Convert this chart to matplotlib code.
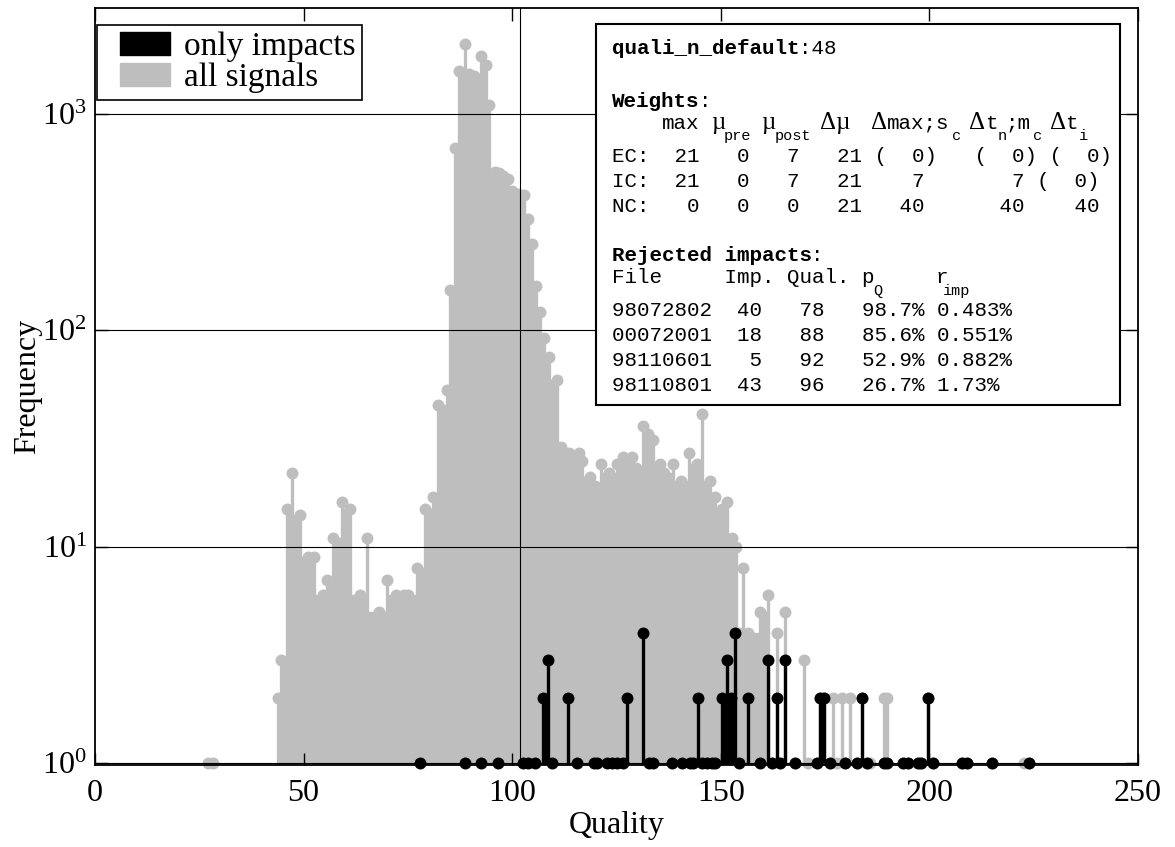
import matplotlib
matplotlib.use('Agg')
import matplotlib.pyplot as plt
from matplotlib.patches import Patch, Rectangle
from matplotlib.legend_handler import HandlerPatch
from matplotlib.ticker import NullLocator

plt.rcParams['font.family'] = 'Liberation Serif'
plt.rcParams['mathtext.fontset'] = 'custom'
plt.rcParams['mathtext.rm'] = 'Liberation Serif'

# histogram of all signals (quality value, count)
all_q = [27.2, 28.2,
         43.9, 44.7, 46.0, 47.2, 49.1, 51.1, 52.6, 54.7, 55.7, 57.1,
         59.1, 61.1, 63.4, 65.3, 68.1, 70.1, 72.1, 74.1, 75.1, 77.1,
         79.0, 81.0, 82.1, 84.3, 85.1, 86.3, 87.3, 88.7, 89.7, 90.8,
         92.5, 93.7, 94.5, 95.9, 96.9, 97.9, 98.9, 99.9, 101.3, 102.8,
         103.9, 104.8, 105.7, 106.7, 107.6, 108.8, 110.7, 111.6, 113.7, 115.9,
         116.7, 118.6, 119.8, 121.4, 123.3, 125.2, 126.5, 128.6, 129.7, 131.4,
         132.6, 133.7, 135.4, 136.4, 138.5, 140.5, 142.4, 144.2, 145.4, 147.4,
         148.6, 150.2, 151.4, 152.6, 153.6, 154.4, 155.4, 156.5, 159.4, 161.4,
         162.2, 163.4, 164.2, 165.4, 167.8, 169.9, 171.0, 173.0, 173.8, 174.7,
         176.2, 177.0, 177.8, 179.0, 179.8, 181.0, 182.6, 183.9, 185.0, 185.8,
         189.0, 189.8, 193.7, 194.9, 197.3, 198.1, 199.7, 200.9, 207.7, 208.9,
         214.9, 222.6, 223.8]
all_n = [1, 1,
         2, 3, 15, 22, 14, 9, 9, 6, 7, 11,
         16, 15, 6, 11, 5, 7, 6, 6, 6, 8,
         15, 17, 45, 53, 154, 695, 1570, 2095, 1520, 1500,
         1840, 1680, 1100, 540, 530, 515, 500, 440, 425, 420,
         325, 250, 160, 121, 92, 75, 59, 29, 27, 27,
         25, 21, 19, 24, 22, 24, 26, 26, 23, 36,
         33, 31, 24, 22, 24, 20, 27, 24, 41, 20,
         17, 15, 16, 11, 10, 4, 8, 4, 5, 6,
         1, 4, 1, 5, 1, 3, 1, 1, 2, 2,
         1, 2, 1, 2, 1, 2, 1, 2, 1, 1,
         2, 2, 1, 1, 1, 1, 2, 1, 1, 1,
         1, 1, 1]

# histogram of impacts only
imp_q = [77.9, 88.7, 92.5, 96.5, 102.7, 103.9, 105.5, 107.5, 108.5, 109.6,
         113.4, 115.6, 119.5, 120.3, 122.7, 123.9, 125.1, 126.5, 127.4, 131.4,
         132.8, 133.7, 138.4, 140.6, 142.6, 143.4, 144.5, 145.5, 146.6, 147.8,
         148.6, 150.2, 151.4, 152.4, 153.4, 154.4, 156.5, 159.4, 161.4, 162.2,
         163.4, 164.2, 165.4, 167.8, 173.0, 173.8, 174.7, 176.2, 179.8, 182.6,
         183.9, 185.0, 189.0, 189.8, 193.7, 194.9, 197.3, 198.1, 199.7, 200.9,
         207.7, 208.9, 214.9, 223.8]
imp_n = [1, 1, 1, 1, 1, 1, 1, 2, 3, 1,
         2, 1, 1, 1, 1, 1, 1, 1, 2, 4,
         1, 1, 1, 1, 1, 1, 2, 1, 1, 1,
         1, 2, 3, 2, 4, 1, 2, 1, 3, 1,
         2, 1, 3, 1, 1, 2, 2, 1, 1, 1,
         2, 1, 1, 1, 1, 1, 1, 1, 2, 1,
         1, 1, 1, 1]

threshold_q = 101.9

# text box contents
quali_n_default = 48
weight_rows = ["EC:  21   0   7   21 (  0)   (  0) (  0)",
               "IC:  21   0   7   21    7       7 (  0)",
               "NC:   0   0   0   21   40      40    40"]
rej_files = ["98072802", "00072001", "98110601", "98110801"]
rej_imp = [40, 18, 5, 43]
rej_qual = [78, 88, 92, 96]
rej_pq = [98.7, 85.6, 52.9, 26.7]
rej_rimp = ["0.483", "0.551", "0.882", "1.73"]

GRAY = '#bebebe'
W, H = 1175, 847


def blocks(q, n, maxgap=3.0):
    # filled steps between neighbouring stems, at the lower of the two counts
    left, width, height = [], [], []
    for i in range(len(q) - 1):
        gap = q[i + 1] - q[i]
        h = min(n[i], n[i + 1])
        if gap <= maxgap and h > 1:
            left.append(q[i])
            width.append(gap)
            height.append(h - 0.5)
    return left, width, height


fig = plt.figure(figsize=(W / 100, H / 100), dpi=100)
ax = fig.add_axes([95 / W, 1 - 765 / H, (1138 - 95) / W, (765 - 8) / H])
ax.set_yscale('log')

# all signals
l, w, h = blocks(all_q, all_n)
ax.bar(l, h, width=w, bottom=0.5, align='edge', color=GRAY,
       edgecolor=GRAY, lw=0.3, zorder=1)
ax.vlines(all_q, 0.5, all_n, color=GRAY, lw=2.4, zorder=1.5)
ax.plot(all_q, all_n, 'o', color=GRAY, ms=8.6, mec='none',
        clip_on=False, zorder=1.6)

# impacts
l, w, h = blocks(imp_q, imp_n)
ax.bar(l, h, width=w, bottom=0.5, align='edge', color='k',
       edgecolor='k', lw=0.3, zorder=3)
ax.vlines(imp_q, 0.5, imp_n, color='k', lw=2.4, zorder=3.5)
ax.plot(imp_q, imp_n, 'o', color='k', ms=8.6, mec='none',
        clip_on=False, zorder=4)

ax.axvline(threshold_q, color='k', lw=0.8, zorder=2.5)

ax.set_xlim(0, 250)
ax.set_ylim(0.98, 3080)
ax.set_xticks([0, 50, 100, 150, 200, 250])
ax.yaxis.set_minor_locator(NullLocator())
ax.set_axisbelow(False)
ax.yaxis.grid(True, which='major', color='k', lw=0.8)
ax.tick_params(direction='in', top=True, right=True, length=9, width=1,
               labelsize=23)
ax.tick_params(axis='x', pad=10)
ax.tick_params(axis='y', pad=6)
for s in ax.spines.values():
    s.set_linewidth(1.3)
ax.set_xlabel('Quality', fontsize=23, labelpad=2)
ax.set_ylabel('Frequency', fontsize=23, labelpad=0)


def offset_patch(legend, orig_handle, xdescent, ydescent, width, height, fontsize):
    # patch sits in the right part of the handle box
    return Rectangle((-xdescent + 0.25 * width, -ydescent), 0.75 * width, height)


handles = [Patch(facecolor='k', edgecolor='k', label='only impacts'),
           Patch(facecolor=GRAY, edgecolor=GRAY, label='all signals')]
leg = ax.legend(handles=handles, loc='upper left',
                bbox_to_anchor=((97 - 95) / 1043, (765 - 25) / 757),
                borderaxespad=0, fancybox=False, edgecolor='k', framealpha=1,
                fontsize=24, handlelength=2.0, handleheight=0.68,
                handletextpad=0.4, borderpad=0.2, labelspacing=0.02,
                handler_map={Patch: HandlerPatch(patch_func=offset_patch)})
leg.get_frame().set_linewidth(1.2)
leg.set_zorder(10)

# info box
ax.add_patch(Rectangle((596 / W, 1 - 405 / H), (1120 - 596) / W, (405 - 24) / H,
                       transform=fig.transFigure, facecolor='white',
                       edgecolor='k', lw=1.5, zorder=10, clip_on=False))

X0, CW = 612, 12.45
MONO = 'Liberation Mono'


def put(col, base, s, kind='m', bold=False):
    if kind == 'g':
        kw = dict(family='Liberation Serif', fontsize=18)
    elif kind == 's':
        kw = dict(family=MONO, fontsize=11)
    else:
        kw = dict(family=MONO, fontsize=15)
    if bold:
        kw['weight'] = 'bold'
    ax.text((X0 + col * CW) / W, 1 - base / H, s, transform=fig.transFigure,
            ha='left', va='baseline', zorder=11, **kw)


put(0, 54, 'quali_n_default', bold=True)
put(15, 54, ':%d' % quali_n_default)
put(0, 107, 'Weights', bold=True)
put(7, 107, ':')
header = [(4, 'max', 'm', 129), (8, 'µ', 'g', 129), (9.0, 'pre', 's', 140),
          (12, 'µ', 'g', 129), (13.1, 'post', 's', 140), (16.7, 'Δµ', 'g', 129),
          (20.8, 'Δ', 'g', 129), (22.1, 'max;s', 'm', 129), (27.3, 'c', 's', 140),
          (28.7, 'Δ', 'g', 129), (29.95, 't', 'm', 129), (31.0, 'n', 's', 140),
          (31.6, ';m', 'm', 129), (33.8, 'c', 's', 140), (35.2, 'Δ', 'g', 129),
          (36.4, 't', 'm', 129), (37.5, 'i', 's', 140)]
for col, s, kind, base in header:
    put(col, base, s, kind)
for i, row in enumerate(weight_rows):
    put(0, 162 + 25 * i, row)

put(0, 261, 'Rejected impacts', bold=True)
put(16, 261, ':')
put(0, 283, 'File     Imp. Qual. p')
put(21.0, 295, 'Q', 's')
put(26, 283, 'r')
put(26.6, 295, 'imp', 's')
for i in range(len(rej_files)):
    line = '%s  %2d   %2d   %4.1f%% %s%%' % (rej_files[i], rej_imp[i],
                                            rej_qual[i], rej_pq[i], rej_rimp[i])
    put(0, 316 + 25 * i, line)

fig.savefig('out.png', dpi=100)
